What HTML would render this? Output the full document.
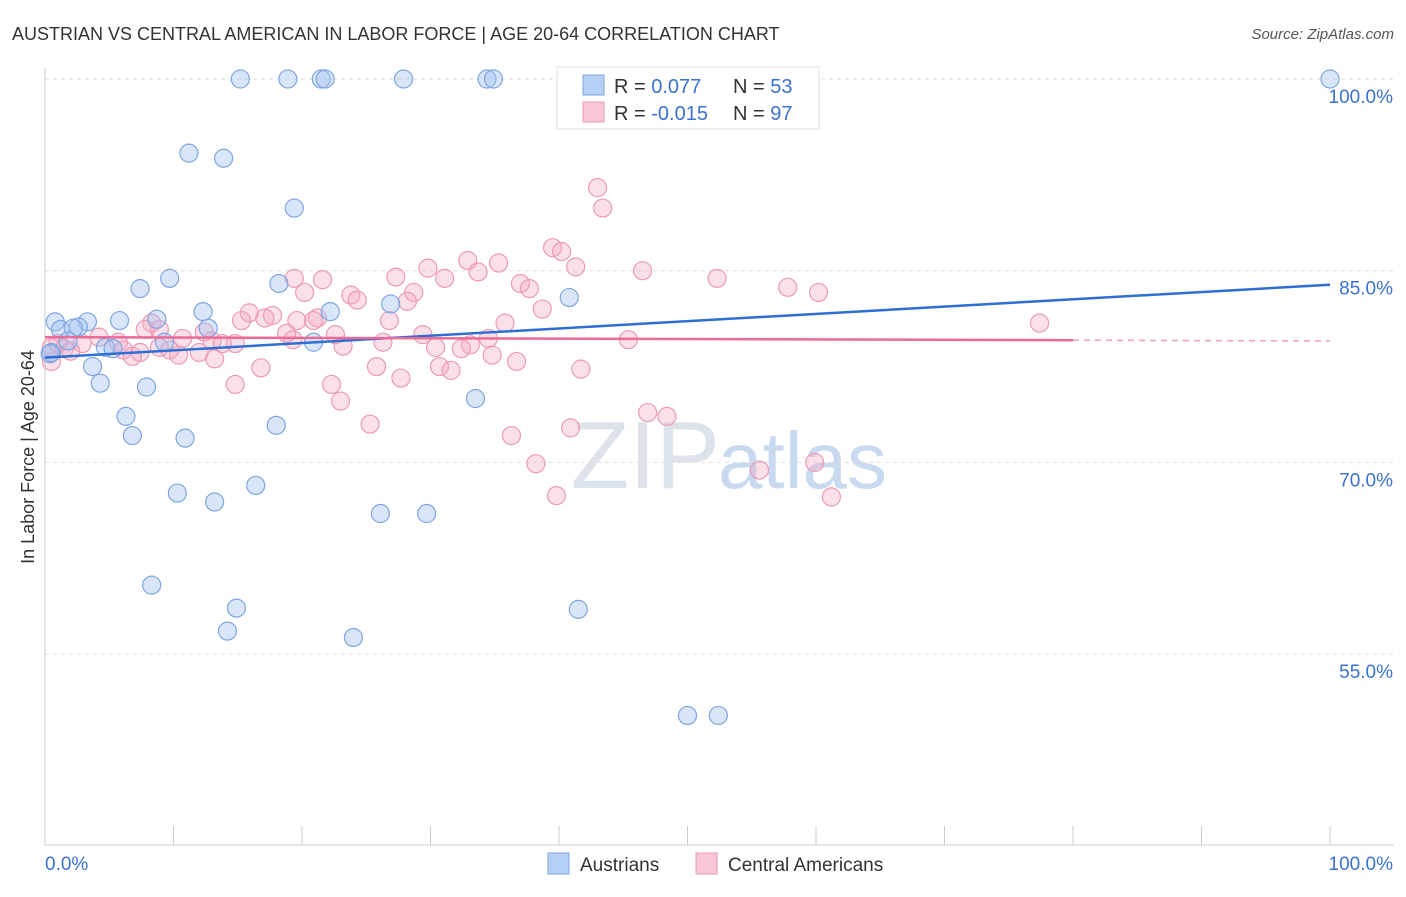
<!DOCTYPE html>
<html><head><meta charset="utf-8"><style>
body{margin:0;background:#fff;font-family:"Liberation Sans",sans-serif}
svg text{font-family:"Liberation Sans",sans-serif}
</style></head><body>
<svg width="1406" height="892" xmlns="http://www.w3.org/2000/svg">
<text x="12" y="40" font-size="18" fill="#333">AUSTRIAN VS CENTRAL AMERICAN IN LABOR FORCE | AGE 20-64 CORRELATION CHART</text>
<text x="1394" y="39" font-size="15" fill="#555" text-anchor="end" font-style="italic">Source: ZipAtlas.com</text>
<text x="720" y="488" font-size="96" fill="#dde3ea" text-anchor="end" font-family="Liberation Serif">ZIP</text>
<text x="718" y="488" font-size="80" fill="#c9daf0">atlas</text>
<g id="grid"></g>
<g id="axes"></g>
<g id="pts"></g>
<g id="trend"></g>
<text transform="translate(34,457) rotate(-90)" font-size="18" fill="#333" text-anchor="middle">In Labor Force | Age 20-64</text>
<g>
<rect x="557" y="67" width="262" height="62" fill="#fff" stroke="#ddd"/>
<rect x="583" y="75" width="21" height="20" fill="#b7d0f5" stroke="#7ea6e0"/>
<rect x="583" y="102" width="21" height="20" fill="#f9c6d6" stroke="#eb9ab8"/>
<text x="614" y="93" font-size="20" fill="#333">R = <tspan fill="#3b72d0"> 0.077</tspan><tspan x="733">N = </tspan><tspan fill="#3b72d0">53</tspan></text>
<text x="614" y="120" font-size="20" fill="#333">R = <tspan fill="#3b72d0">-0.015</tspan><tspan x="733">N = </tspan><tspan fill="#3b72d0">97</tspan></text>
</g>
<g>
<rect x="548" y="853" width="21" height="21" fill="#b7d0f5" stroke="#7ea6e0"/>
<text x="580" y="871" font-size="19" fill="#333">Austrians</text>
<rect x="696" y="853" width="21" height="21" fill="#f9c6d6" stroke="#eb9ab8"/>
<text x="728" y="871" font-size="19" fill="#333">Central Americans</text>
</g>
</svg>
<script>
const yTicks=[100,85,70,55];
const yTickLabels=["100.0%","85.0%","70.0%","55.0%"];
const xTickLabels=["0.0%","100.0%"];
const blueX=[15.2,18.9,21.5,21.8,27.9,34.4,34.9,100,47.1,11.2,13.9,19.4,9.7,7.4,18.2,40.8,26.9,12.3,22.2,0.8,3.3,5.8,8.7,2.6,1.2,2.2,12.7,20.9,9.3,1.8,4.7,5.3,0.5,0.4,3.7,4.3,7.9,33.5,6.3,6.8,10.9,18.0,16.4,10.3,13.2,26.1,29.7,8.3,14.9,41.5,14.2,24.0,50.0,52.4];
const blueY=[100,100,100,100,100,100,100,100,100,94.2,93.8,89.9,84.4,83.6,84.0,82.9,82.4,81.8,81.8,81.0,81.0,81.1,81.2,80.6,80.4,80.5,80.5,79.4,79.4,79.5,79.0,78.9,78.6,78.5,77.5,76.2,75.9,75.0,73.6,72.1,71.9,72.9,68.2,67.6,66.9,66.0,66.0,60.4,58.6,58.5,56.8,56.3,50.2,50.2];
const pinkX=[43.0,43.4,39.5,40.2,32.9,35.3,29.8,41.3,33.7,46.5,31.1,27.3,19.4,21.6,52.3,37.0,57.8,37.7,60.2,23.8,20.2,28.7,24.3,28.2,38.7,15.9,17.7,17.1,15.3,21.2,20.9,19.6,35.8,26.8,77.4,8.3,7.8,8.9,12.4,18.8,22.6,29.4,45.4,4.2,10.7,34.5,13.0,14.8,13.8,26.3,23.2,30.4,33.1,32.4,5.7,1.0,2.9,1.5,2.0,6.1,7.4,9.7,10.4,6.8,12.0,13.2,0.5,0.5,34.8,36.7,25.8,16.8,30.7,31.6,41.7,27.7,14.8,22.3,23.0,46.9,48.4,25.3,40.9,36.3,38.2,55.6,59.9,39.8,61.2,19.3,8.9];
const pinkY=[91.5,89.9,86.8,86.5,85.8,85.6,85.2,85.3,84.9,85.0,84.4,84.5,84.4,84.3,84.4,84.0,83.7,83.6,83.3,83.1,83.3,83.3,82.7,82.6,82.0,81.7,81.5,81.3,81.1,81.3,81.1,81.1,80.9,81.1,80.9,80.9,80.4,80.4,80.2,80.1,80.0,80.0,79.6,79.8,79.7,79.7,79.5,79.3,79.3,79.4,79.1,79.0,79.2,78.9,79.4,79.3,79.3,78.9,78.7,78.8,78.6,78.8,78.4,78.3,78.6,78.1,79.0,77.9,78.4,77.9,77.5,77.4,77.5,77.2,77.3,76.6,76.1,76.1,74.8,73.9,73.6,73.0,72.7,72.1,69.9,69.4,70.0,67.4,67.3,79.6,79.0];
const blueTrend=[78.2,83.9];
const pinkTrend=[79.8,79.5];
const pinkSolidEnd=80;
const NS="http://www.w3.org/2000/svg";
const X=v=>45+v*12.85, Y=v=>79+(100-v)*12.78;
function mk(t,a,p){const e=document.createElementNS(NS,t);for(const k in a)e.setAttribute(k,a[k]);p.appendChild(e);return e;}
const grid=document.getElementById('grid'),axes=document.getElementById('axes');
yTicks.forEach((t,i)=>{
 const l=mk('line',{x1:45,x2:1394,y1:Y(t),y2:Y(t),stroke:'#ddd','stroke-dasharray':'4,4'},grid);
 
 
 const tx=mk('text',{x:1393,y:Y(t)+24,'font-size':19,fill:'#3b72d0','text-anchor':'end'},axes);
 tx.textContent=yTickLabels[i];
 
 
});
mk('line',{x1:45,x2:45,y1:68,y2:845,stroke:'#ccc'},axes);
mk('line',{x1:45,x2:1394,y1:845,y2:845,stroke:'#ccc'},axes);
for(let i=0;i<=10;i++){mk('line',{x1:X(i*10),x2:X(i*10),y1:826,y2:845,stroke:'#ccc'},axes);}
[0,100].forEach((v,i)=>{const tx=mk('text',{x:i?1393:45,y:870,'font-size':19,fill:'#3b72d0','text-anchor':i?'end':'start'},axes);
 tx.textContent=xTickLabels[i];
 
 });
const pts=document.getElementById('pts');
pinkX.forEach((x,i)=>{const c=mk('circle',{cx:X(x),cy:Y(pinkY[i]),r:9,fill:'rgba(244,165,192,0.35)',stroke:'#eb9ab8','stroke-width':1.2},pts);
 
 });
blueX.forEach((x,i)=>{const c=mk('circle',{cx:X(x),cy:Y(blueY[i]),r:9,fill:'rgba(160,192,240,0.4)',stroke:'#7ea6e0','stroke-width':1.2},pts);
 
 });
const tr=document.getElementById('trend');
const bl=mk('line',{x1:X(0),y1:Y(blueTrend[0]),x2:X(100),y2:Y(blueTrend[1]),stroke:'#2e6fd6','stroke-width':2.5},tr);


const pm=pinkTrend[0]+(pinkTrend[1]-pinkTrend[0])*pinkSolidEnd/100;
const pl=mk('line',{x1:X(0),y1:Y(pinkTrend[0]),x2:X(pinkSolidEnd),y2:Y(pm),stroke:'#ec6a97','stroke-width':2.5},tr);


const pd=mk('line',{x1:X(pinkSolidEnd),y1:Y(pm),x2:X(100),y2:Y(pinkTrend[1]),stroke:'#f0a0bc','stroke-width':1.5,'stroke-dasharray':'6,5'},tr);


</script>
</body></html>
